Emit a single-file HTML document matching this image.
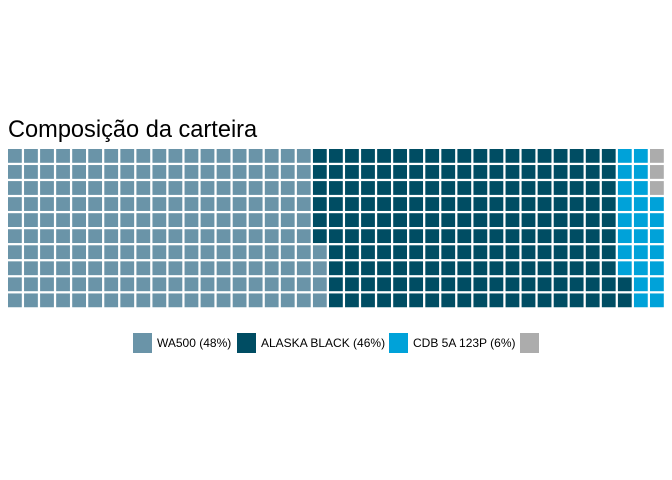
<!DOCTYPE html>
<html><head><meta charset="utf-8"><style>
body{margin:0;background:#fff;}
svg{display:block;font-family:"Liberation Sans",sans-serif;}
</style></head><body>
<svg id="chart" width="672" height="480">
<text x="8" y="137" font-size="23.6" fill="#000">Composição da carteira</text>
<g id="cells"></g>
<g id="legend"></g>
</svg>
<script>
const categories = ["WA500 (48%)", "ALASKA BLACK (46%)", "CDB 5A 123P (6%)", ""];
const counts = [194, 188, 25, 3];
const colors = ["#6a94a8", "#004d63", "#00a2d9", "#acacac"];
const nRows = 10;

const svg = document.getElementById('chart');
const g = document.getElementById('cells');
const NS = 'http://www.w3.org/2000/svg';
const x0 = 8, y0 = 149, pitch = 16.05, size = 13.8;
let idx = 0;
counts.forEach((c, ci) => {
  for (let k = 0; k < c; k++) {
    const col = Math.floor(idx / nRows);
    const row = nRows - 1 - (idx % nRows);
    const r = document.createElementNS(NS, 'rect');
    r.setAttribute('x', x0 + col * pitch);
    r.setAttribute('y', y0 + row * pitch);
    r.setAttribute('width', size);
    r.setAttribute('height', size);
    r.setAttribute('fill', colors[ci]);
    
    
    g.appendChild(r);
    idx++;
  }
});

const lg = document.getElementById('legend');
const legendX = [133, 237, 389, 520];
categories.forEach((cat, i) => {
  const r = document.createElementNS(NS, 'rect');
  r.setAttribute('x', legendX[i]);
  r.setAttribute('y', 333);
  r.setAttribute('width', 19);
  r.setAttribute('height', 20);
  r.setAttribute('fill', colors[i]);
  
  
  lg.appendChild(r);
  if (cat) {
    const t = document.createElementNS(NS, 'text');
    t.setAttribute('x', legendX[i] + 24);
    t.setAttribute('y', 347);
    t.setAttribute('font-size', '12');
    t.setAttribute('fill', '#000');
    t.textContent = cat;
    
    
    lg.appendChild(t);
  }
});
</script>
</body></html>
